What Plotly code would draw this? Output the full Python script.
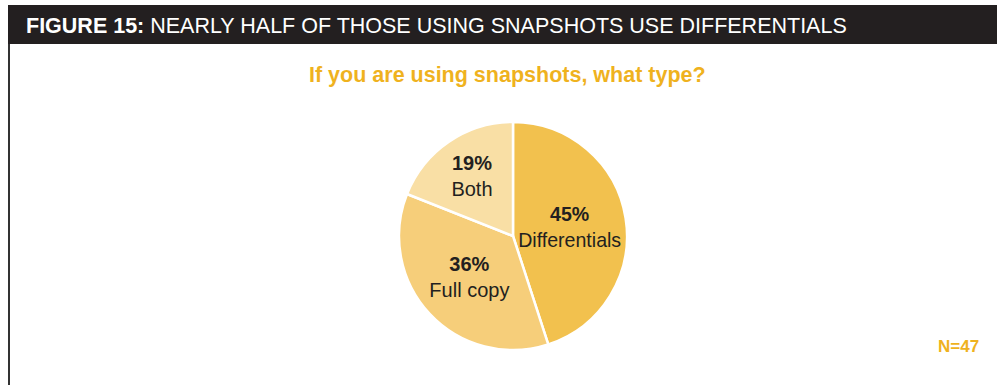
import plotly.graph_objects as go

labels = ["Differentials", "Full copy", "Both"]
values = [45, 36, 19]
colors = ["#F2C14E", "#F6CE7A", "#F9DFA5"]

title = "If you are using snapshots, what type?"
header = "<b>FIGURE 15:</b> NEARLY HALF OF THOSE USING SNAPSHOTS USE DIFFERENTIALS"
note = "N=47"

W, H = 997, 385
cx, cy, r = 513, 236, 114

fig = go.Figure(go.Pie(
    labels=labels, values=values, sort=False, direction="clockwise", rotation=0,
    marker=dict(colors=colors, line=dict(color="white", width=2.5)),
    texttemplate="<b>%{percent:.0%}</b><br>%{label}",
    textposition="inside", insidetextorientation="horizontal",
    textfont=dict(family="Liberation Sans, Arial", size=20, color="#231F20"),
    showlegend=False, hoverinfo="label+percent",
    domain=dict(x=[(cx - r) / W, (cx + r) / W], y=[1 - (cy + r) / H, 1 - (cy - r) / H]),
))

fig.update_layout(
    width=W, height=H, margin=dict(l=0, r=0, t=0, b=0),
    paper_bgcolor="white", plot_bgcolor="white",
    shapes=[
        dict(type="rect", xref="paper", yref="paper", x0=8 / W, x1=1, y0=1 - 44 / H, y1=1 - 5 / H,
             fillcolor="#231F20", line=dict(width=0), layer="below"),
        dict(type="line", xref="paper", yref="paper", x0=9 / W, x1=9 / W, y0=0, y1=1 - 44 / H,
             line=dict(color="#333333", width=2)),
    ],
    annotations=[
        dict(text=header, xref="paper", yref="paper", x=24 / W, y=1 - 26 / H, xanchor="left", yanchor="middle",
             showarrow=False, font=dict(family="Liberation Sans, Arial", size=21.5, color="white")),
        dict(text=f"<b>{title}</b>", xref="paper", yref="paper", x=508 / W, y=1 - 75 / H, xanchor="center",
             yanchor="middle", showarrow=False, font=dict(family="Liberation Sans, Arial", size=21.5, color="#EFB21E")),
        dict(text=f"<b>{note}</b>", xref="paper", yref="paper", x=958 / W, y=1 - 346 / H, xanchor="center",
             yanchor="middle", showarrow=False, font=dict(family="Liberation Sans, Arial", size=17, color="#EFB21E")),
    ],
)

fig.write_html("out.html")
